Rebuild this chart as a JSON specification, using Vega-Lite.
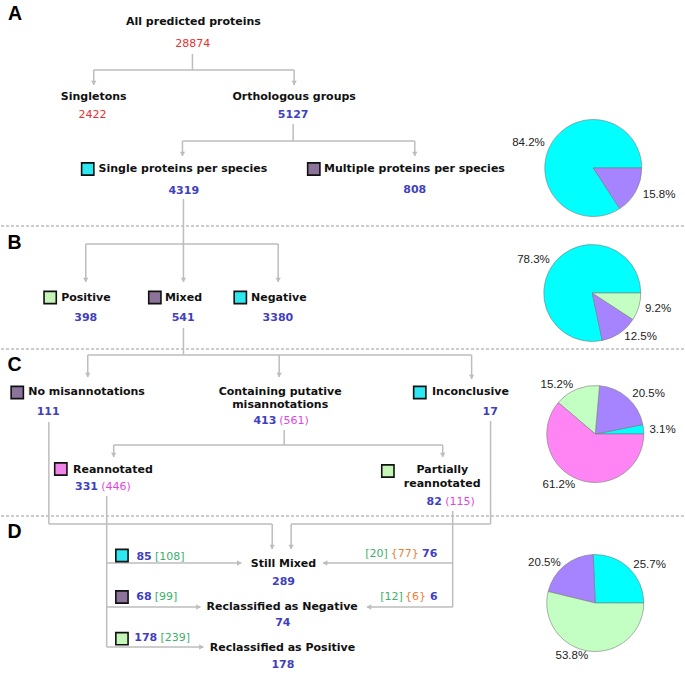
{
"$schema": "https://vega.github.io/schema/vega-lite/v6.json",
"width": 685, "height": 685, "padding": 0,
"autosize": {"type": "fit", "contains": "padding"},
"background": "white",
"config": {"view": {"stroke": null}},
"datasets": {
"seps": [{"x":0,"x2":685,"y":226},{"x":0,"x2":685,"y":349},{"x":0,"x2":685,"y":516}],
"segs": [
{"x":192,"y":54,"x2":192,"y2":70},
{"x":93,"y":70,"x2":294,"y2":70},
{"x":93,"y":70,"x2":93,"y2":85},
{"x":294,"y":70,"x2":294,"y2":85},
{"x":293,"y":124,"x2":293,"y2":141},
{"x":182,"y":141,"x2":415,"y2":141},
{"x":182,"y":141,"x2":182,"y2":156},
{"x":415,"y":141,"x2":415,"y2":156},
{"x":183,"y":199,"x2":183,"y2":282},
{"x":85,"y":244,"x2":278,"y2":244},
{"x":85,"y":244,"x2":85,"y2":282},
{"x":278,"y":244,"x2":278,"y2":282},
{"x":183,"y":328,"x2":183,"y2":355},
{"x":87,"y":355,"x2":472,"y2":355},
{"x":87,"y":355,"x2":87,"y2":377},
{"x":279,"y":355,"x2":279,"y2":377},
{"x":472,"y":355,"x2":472,"y2":379},
{"x":284,"y":430,"x2":284,"y2":445},
{"x":113,"y":445,"x2":443,"y2":445},
{"x":113,"y":445,"x2":113,"y2":457},
{"x":443,"y":445,"x2":443,"y2":457},
{"x":48,"y":422,"x2":48,"y2":524},
{"x":48,"y":524,"x2":272,"y2":524},
{"x":272,"y":524,"x2":272,"y2":549},
{"x":491,"y":421,"x2":491,"y2":524},
{"x":291,"y":524,"x2":491,"y2":524},
{"x":291,"y":524,"x2":291,"y2":549},
{"x":106,"y":496,"x2":106,"y2":647},
{"x":106,"y":563,"x2":241,"y2":563},
{"x":106,"y":607,"x2":200,"y2":607},
{"x":106,"y":647,"x2":203,"y2":647},
{"x":453,"y":511,"x2":453,"y2":607},
{"x":323,"y":563,"x2":453,"y2":563},
{"x":367,"y":607,"x2":453,"y2":607}
],
"arrows": [
{"x":93,"y":83,"dir":"down"},{"x":294,"y":83,"dir":"down"},
{"x":182,"y":154,"dir":"down"},{"x":415,"y":154,"dir":"down"},
{"x":85,"y":280,"dir":"down"},{"x":183,"y":280,"dir":"down"},{"x":278,"y":280,"dir":"down"},
{"x":87,"y":375,"dir":"down"},{"x":279,"y":375,"dir":"down"},{"x":472,"y":377,"dir":"down"},
{"x":113,"y":455,"dir":"down"},{"x":443,"y":455,"dir":"down"},
{"x":272,"y":547,"dir":"down"},{"x":291,"y":547,"dir":"down"},
{"x":239,"y":563,"dir":"right"},{"x":198,"y":607,"dir":"right"},{"x":201,"y":647,"dir":"right"},
{"x":325,"y":563,"dir":"left"},{"x":369,"y":607,"dir":"left"}
],
"pies": [
{"pie":"A","cx":594,"cy":168,"cls":"pie_cyan","pct":84.2,"ord":1},
{"pie":"A","cx":594,"cy":168,"cls":"pie_purple","pct":15.8,"ord":2},
{"pie":"B","cx":593,"cy":293,"cls":"pie_cyan","pct":78.3,"ord":1},
{"pie":"B","cx":593,"cy":293,"cls":"pie_purple","pct":12.5,"ord":2},
{"pie":"B","cx":593,"cy":293,"cls":"pie_green","pct":9.2,"ord":3},
{"pie":"C","cx":596,"cy":434,"cls":"pie_cyan","pct":3.1,"ord":1},
{"pie":"C","cx":596,"cy":434,"cls":"pie_purple","pct":20.5,"ord":2},
{"pie":"C","cx":596,"cy":434,"cls":"pie_green","pct":15.2,"ord":3},
{"pie":"C","cx":596,"cy":434,"cls":"pie_pink","pct":61.2,"ord":4},
{"pie":"D","cx":596,"cy":603,"cls":"pie_cyan","pct":25.7,"ord":1},
{"pie":"D","cx":596,"cy":603,"cls":"pie_purple","pct":20.5,"ord":2},
{"pie":"D","cx":596,"cy":603,"cls":"pie_green","pct":53.8,"ord":3}
],
"squares": [
{"x":87,"y":169,"cls":"sq_cyan"},{"x":313.7,"y":169,"cls":"sq_purple"},
{"x":49.3,"y":297.5,"cls":"sq_green"},{"x":154.3,"y":297.5,"cls":"sq_purple"},{"x":240,"y":297.5,"cls":"sq_cyan"},
{"x":16.3,"y":392.5,"cls":"sq_purple"},{"x":420,"y":392.5,"cls":"sq_cyan"},
{"x":60,"y":469,"cls":"sq_pink"},{"x":388,"y":471,"cls":"sq_green"},
{"x":121.3,"y":555.5,"cls":"sq_cyan"},{"x":121.3,"y":597,"cls":"sq_purple"},{"x":121.3,"y":638.7,"cls":"sq_green"}
],
"texts": [
{"x":193,"y":22,"t":"All predicted proteins","kind":"label"},
{"x":93,"y":97,"t":"Singletons","kind":"label"},
{"x":294,"y":97,"t":"Orthologous groups","kind":"label"},
{"x":182.5,"y":169,"t":"Single proteins per species","kind":"label"},
{"x":414.7,"y":169,"t":"Multiple proteins per species","kind":"label"},
{"x":85.2,"y":297.5,"t":"Positive","kind":"label"},
{"x":183,"y":297.5,"t":"Mixed","kind":"label"},
{"x":278.7,"y":297.5,"t":"Negative","kind":"label"},
{"x":85.8,"y":391.5,"t":"No misannotations","kind":"label"},
{"x":280,"y":391.5,"t":"Containing putative","kind":"label"},
{"x":280,"y":405,"t":"misannotations","kind":"label"},
{"x":470.8,"y":391.5,"t":"Inconclusive","kind":"label"},
{"x":112.2,"y":470,"t":"Reannotated","kind":"label"},
{"x":442.7,"y":470,"t":"Partially","kind":"label"},
{"x":442.5,"y":484,"t":"reannotated","kind":"label"},
{"x":283.3,"y":563.5,"t":"Still Mixed","kind":"label"},
{"x":282,"y":606.5,"t":"Reclassified as Negative","kind":"label"},
{"x":282.3,"y":647.5,"t":"Reclassified as Positive","kind":"label"},
{"x":293,"y":115,"t":"5127","kind":"count"},
{"x":183.3,"y":190.5,"t":"4319","kind":"count"},
{"x":415,"y":190,"t":"808","kind":"count"},
{"x":85,"y":317.5,"t":"398","kind":"count"},
{"x":182.7,"y":317.5,"t":"541","kind":"count"},
{"x":277.7,"y":317.5,"t":"3380","kind":"count"},
{"x":47.3,"y":411.5,"t":"111","kind":"count"},
{"x":264.7,"y":421,"t":"413","kind":"count"},
{"x":490.7,"y":411.5,"t":"17","kind":"count"},
{"x":85.8,"y":486.5,"t":"331","kind":"count"},
{"x":434.5,"y":501.5,"t":"82","kind":"count"},
{"x":143.5,"y":556.5,"t":"85","kind":"count"},
{"x":283.3,"y":581.5,"t":"289","kind":"count"},
{"x":430,"y":554.3,"t":"76","kind":"count"},
{"x":143.3,"y":596.5,"t":"68","kind":"count"},
{"x":282.7,"y":623,"t":"74","kind":"count"},
{"x":434,"y":596.5,"t":"6","kind":"count"},
{"x":145.2,"y":637.7,"t":"178","kind":"count"},
{"x":282.7,"y":665,"t":"178","kind":"count"},
{"x":192.3,"y":44,"t":"28874","kind":"red"},
{"x":91.7,"y":115,"t":"2422","kind":"red"},
{"x":293.8,"y":421,"t":"(561)","kind":"mag"},
{"x":115.3,"y":486.5,"t":"(446)","kind":"mag"},
{"x":460.3,"y":501.5,"t":"(115)","kind":"mag"},
{"x":169.2,"y":556.5,"t":"[108]","kind":"grn"},
{"x":165.5,"y":596.5,"t":"[99]","kind":"grn"},
{"x":174.7,"y":637.7,"t":"[239]","kind":"grn"},
{"x":376.7,"y":554.3,"t":"[20]","kind":"grn"},
{"x":391.7,"y":596.5,"t":"[12]","kind":"grn"},
{"x":405,"y":554.3,"t":"{77}","kind":"org"},
{"x":415.8,"y":596.5,"t":"{6}","kind":"org"},
{"x":14,"y":14,"t":"A","kind":"panel"},
{"x":13.5,"y":243,"t":"B","kind":"panel"},
{"x":13.5,"y":365,"t":"C","kind":"panel"},
{"x":13.5,"y":532,"t":"D","kind":"panel"},
{"x":529,"y":143,"t":"84.2%","kind":"pct"},
{"x":660,"y":195,"t":"15.8%","kind":"pct"},
{"x":534,"y":260,"t":"78.3%","kind":"pct"},
{"x":659,"y":309,"t":"9.2%","kind":"pct"},
{"x":641.5,"y":337.3,"t":"12.5%","kind":"pct"},
{"x":557.5,"y":385,"t":"15.2%","kind":"pct"},
{"x":649.5,"y":394,"t":"20.5%","kind":"pct"},
{"x":663.5,"y":430,"t":"3.1%","kind":"pct"},
{"x":559.5,"y":485,"t":"61.2%","kind":"pct"},
{"x":545,"y":563,"t":"20.5%","kind":"pct"},
{"x":650.5,"y":565,"t":"25.7%","kind":"pct"},
{"x":572.5,"y":656,"t":"53.8%","kind":"pct"}
]
},
"layer": [
{
"data": {"name": "seps"},
"mark": {"type": "rule", "color": "#9a9a9a", "strokeWidth": 1, "strokeDash": [3, 2]},
"encoding": {
"x": {"field": "x", "type": "quantitative", "scale": {"domain": [0, 685], "nice": false, "zero": false}, "axis": null},
"x2": {"field": "x2"},
"y": {"field": "y", "type": "quantitative", "scale": {"domain": [0, 685], "reverse": true, "nice": false, "zero": false}, "axis": null}
}
},
{
"data": {"name": "segs"},
"mark": {"type": "rule", "color": "#bdbdbd", "strokeWidth": 1.5},
"encoding": {
"x": {"field": "x", "type": "quantitative", "axis": null},
"x2": {"field": "x2"},
"y": {"field": "y", "type": "quantitative", "axis": null},
"y2": {"field": "y2"}
}
},
{
"data": {"name": "arrows"},
"mark": {"type": "point", "filled": true, "color": "#bdbdbd", "opacity": 1, "size": 28},
"encoding": {
"x": {"field": "x", "type": "quantitative", "axis": null},
"y": {"field": "y", "type": "quantitative", "axis": null},
"shape": {"field": "dir", "type": "nominal", "legend": null, "scale": {"domain": ["down", "right", "left"], "range": ["triangle-down", "triangle-right", "triangle-left"]}}
}
},
{
"data": {"name": "pies"},
"transform": [{"stack": "pct", "groupby": ["pie"], "sort": [{"field": "ord", "order": "ascending"}], "as": ["t0", "t1"]}],
"mark": {"type": "arc", "radius": 48.5, "stroke": "#7a7a7a", "strokeWidth": 0.6},
"encoding": {
"x": {"field": "cx", "type": "quantitative", "axis": null},
"y": {"field": "cy", "type": "quantitative", "axis": null},
"theta": {"field": "t0", "type": "quantitative", "stack": null, "scale": {"domain": [0, 100], "range": [1.5708, -4.7124]}},
"theta2": {"field": "t1"},
"color": {"field": "cls", "type": "nominal", "legend": null,
"scale": {"domain": ["label","count","red","mag","grn","org","pct","panel","pie_cyan","pie_purple","pie_green","pie_pink","sq_cyan","sq_purple","sq_green","sq_pink"],
"range": ["#111111","#3F3FC0","#E8302F","#E048DD","#3DAF6B","#E8823A","#222222","#000000","#00FFFF","#A784FF","#C3FFC3","#FF84F4","#2DE8F0","#8C7399","#C6F5B8","#F084E8"]}}
}
},
{
"data": {"name": "squares"},
"mark": {"type": "point", "shape": "square", "filled": true, "opacity": 1, "size": 150, "stroke": "#111111", "strokeWidth": 1.6},
"encoding": {
"x": {"field": "x", "type": "quantitative", "axis": null},
"y": {"field": "y", "type": "quantitative", "axis": null},
"color": {"field": "cls", "type": "nominal", "legend": null}
}
},
{
"data": {"name": "texts"},
"transform": [{"filter": {"field": "kind", "oneOf": ["label", "count"]}}],
"mark": {"type": "text", "font": "DejaVu Sans", "fontWeight": "bold", "fontSize": 11, "align": "center", "baseline": "middle"},
"encoding": {
"x": {"field": "x", "type": "quantitative", "axis": null},
"y": {"field": "y", "type": "quantitative", "axis": null},
"text": {"field": "t"},
"color": {"field": "kind", "type": "nominal", "legend": null}
}
},
{
"data": {"name": "texts"},
"transform": [{"filter": {"field": "kind", "oneOf": ["red", "mag", "grn", "org"]}}],
"mark": {"type": "text", "font": "DejaVu Sans", "fontSize": 11, "align": "center", "baseline": "middle"},
"encoding": {
"x": {"field": "x", "type": "quantitative", "axis": null},
"y": {"field": "y", "type": "quantitative", "axis": null},
"text": {"field": "t"},
"color": {"field": "kind", "type": "nominal", "legend": null}
}
},
{
"data": {"name": "texts"},
"transform": [{"filter": {"field": "kind", "equal": "panel"}}],
"mark": {"type": "text", "font": "Liberation Sans", "fontWeight": "bold", "fontSize": 19.5, "align": "center", "baseline": "middle"},
"encoding": {
"x": {"field": "x", "type": "quantitative", "axis": null},
"y": {"field": "y", "type": "quantitative", "axis": null},
"text": {"field": "t"},
"color": {"field": "kind", "type": "nominal", "legend": null}
}
},
{
"data": {"name": "texts"},
"transform": [{"filter": {"field": "kind", "equal": "pct"}}],
"mark": {"type": "text", "font": "Liberation Sans", "fontSize": 11.5, "align": "center", "baseline": "middle"},
"encoding": {
"x": {"field": "x", "type": "quantitative", "axis": null},
"y": {"field": "y", "type": "quantitative", "axis": null},
"text": {"field": "t"},
"color": {"field": "kind", "type": "nominal", "legend": null}
}
}
]
}
